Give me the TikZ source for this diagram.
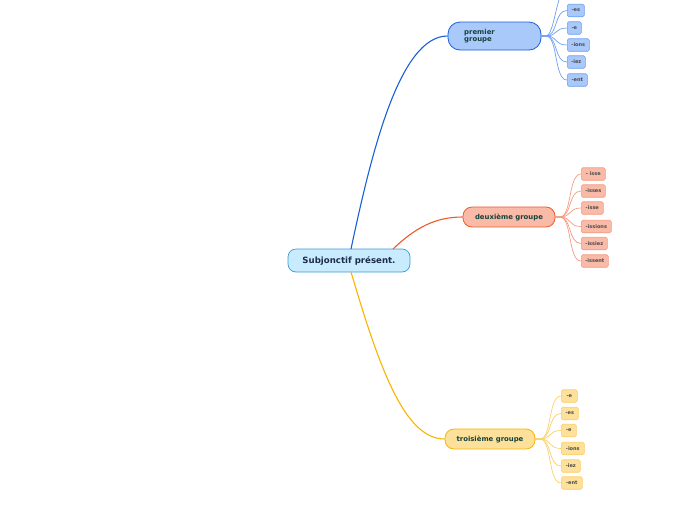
\documentclass[tikz,border=0pt]{standalone}
\usepackage{fontspec}
\setmainfont{DejaVu Sans}
\begin{document}
\begin{tikzpicture}[x=1pt,y=-1pt,
  rootbox/.style={draw=rootline,fill=rootfill,line width=0.7pt,rounded corners=8pt,
    minimum width=122pt,minimum height=23pt,inner sep=0pt,font=\fontsize{8.6}{9.5}\bfseries\selectfont,text=rootText},
  groupbox/.style={line width=0.8pt,inner sep=0pt,font=\fontsize{6.9}{7.6}\bfseries\selectfont,text=grpText},
  leaf/.style={line width=0.6pt,rounded corners=1.5pt,inner sep=0pt,minimum height=12.5pt,
    anchor=west,font=\fontsize{5}{5.5}\bfseries\selectfont,text=leafText},
  bleaf/.style={leaf,draw=blueLeafLine,fill=blueFill},
  rleaf/.style={leaf,draw=redLeafLine,fill=redFill},
  yleaf/.style={leaf,draw=yelLeafLine,fill=yelFill},
  mainlink/.style={line width=1.1pt},
  leaflink/.style={line width=0.7pt}
]
\definecolor{rootline}{HTML}{3C9AD6}
\definecolor{rootfill}{HTML}{C8EBFD}
\definecolor{rootText}{HTML}{1B2B4D}
\definecolor{grpText}{HTML}{15413A}
\definecolor{leafText}{HTML}{4A4A4A}
\definecolor{blueLine}{HTML}{1A5FD6}
\definecolor{blueFill}{HTML}{A9C9FB}
\definecolor{blueLeafLine}{HTML}{6E9EF0}
\definecolor{redLine}{HTML}{EC5A2C}
\definecolor{redFill}{HTML}{F9BBA8}
\definecolor{redLeafLine}{HTML}{F59A80}
\definecolor{yelLine}{HTML}{F7B500}
\definecolor{yelFill}{HTML}{FDE09A}
\definecolor{yelLeafLine}{HTML}{FBCF6A}
\useasboundingbox (0,0) rectangle (696,520);

% root
\node[rootbox] (root) at (349,260.5) {Subjonctif présent.};

% groups
\node[groupbox,draw=blueLine,fill=blueFill,rounded corners=12pt,minimum width=93pt,minimum height=28pt] (g1) at (494.5,36) {};
\node[font=\fontsize{6.9}{7.6}\bfseries\selectfont,text=grpText,align=left,anchor=west,inner sep=0pt] (g1t) at (464,36) {premier\\groupe};
\node[groupbox,draw=redLine,fill=redFill,rounded corners=9pt,minimum width=92pt,minimum height=20pt] (g2) at (509,217) {deuxième groupe};
\node[groupbox,draw=yelLine,fill=yelFill,rounded corners=9pt,minimum width=90pt,minimum height=20pt] (g3) at (490,439) {troisième groupe};

% main links
\coordinate (r1) at (351,249);
\coordinate (r2) at (393,249);
\coordinate (r3) at (351,272);
\draw[mainlink,blueLine] (r1) .. controls (372,150) and (400,36) .. (g1.west);
\draw[mainlink,redLine] (r2) .. controls (415,228) and (435,217) .. (g2.west);
\draw[mainlink,yelLine] (r3) .. controls (380,370) and (405,439) .. (g3.west);

% premier leaves
\coordinate (p0) at (559,0);
\node[bleaf,minimum width=17pt] (p1) at (567,10.5) {-es};
\node[bleaf,minimum width=14pt] (p2) at (567,28) {-e};
\node[bleaf,minimum width=22pt] (p3) at (567,45) {-ions};
\node[bleaf,minimum width=18pt] (p4) at (567,62) {-iez};
\node[bleaf,minimum width=20pt] (p5) at (567,80) {-ent};
\coordinate (g1r) at (541,36);
\draw[leaflink,blueLeafLine] (g1r) -- (546,36) .. controls (552,36) and (555,12) .. (p0);
\foreach \n in {p1,p2,p3,p4,p5}
  \draw[leaflink,blueLeafLine] (g1r) -- (546,36) .. controls (558,36) and (554,0 |- \n.west) .. (\n.west);

% deuxieme leaves
\node[rleaf,minimum width=24pt] (d1) at (581,174) {- isse};
\node[rleaf,minimum width=24pt] (d2) at (581,191) {-isses};
\node[rleaf,minimum width=22pt] (d3) at (581,208) {-isse};
\node[rleaf,minimum width=30pt] (d4) at (581,226.5) {-issions};
\node[rleaf,minimum width=26pt] (d5) at (581,243.5) {-issiez};
\node[rleaf,minimum width=27pt] (d6) at (581,261) {-issent};
\coordinate (g2r) at (555,217);
\foreach \n in {d1,d2,d3,d4,d5,d6}
  \draw[leaflink,redLeafLine] (g2r) -- (560,217) .. controls (572,217) and (568,0 |- \n.west) .. (\n.west);

% troisieme leaves
\node[yleaf,minimum width=16pt] (t1) at (561,396) {-e};
\node[yleaf,minimum width=17pt] (t2) at (561,413.5) {-es};
\node[yleaf,minimum width=15pt] (t3) at (561,430.5) {-e};
\node[yleaf,minimum width=23pt] (t4) at (561,448.5) {-ions};
\node[yleaf,minimum width=19pt] (t5) at (561,466) {-iez};
\node[yleaf,minimum width=21pt] (t6) at (561,483) {-ent};
\coordinate (g3r) at (535,439);
\foreach \n in {t1,t2,t3,t4,t5,t6}
  \draw[leaflink,yelLeafLine] (g3r) -- (540,439) .. controls (552,439) and (548,0 |- \n.west) .. (\n.west);
\end{tikzpicture}
\end{document}
